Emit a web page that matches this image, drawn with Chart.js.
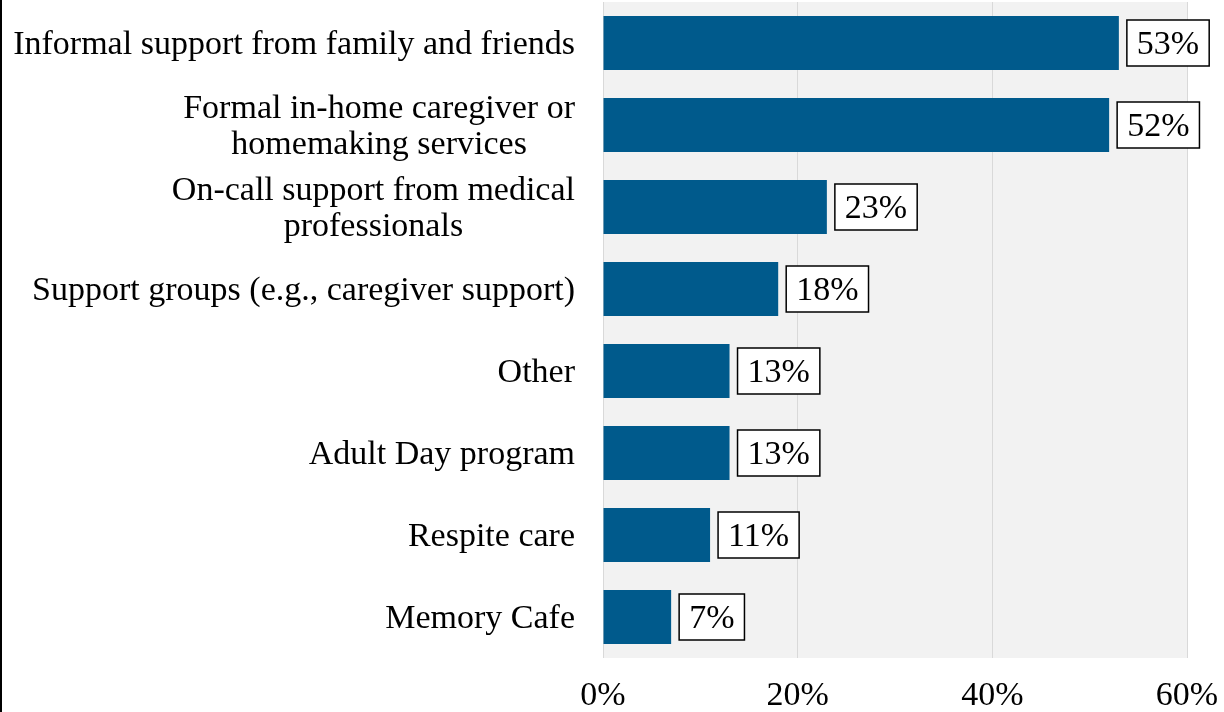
<!DOCTYPE html>
<html>
<head>
<meta charset="utf-8">
<script src="https://cdn.jsdelivr.net/npm/chart.js@4"></script>
<style>
  html, body { margin: 0; padding: 0; background: #ffffff; }
  #wrap { width: 1224px; height: 712px; position: relative; }
</style>
</head>
<body>
<div id="wrap"><canvas id="chart" width="1224" height="712"></canvas></div>
<script>
const categories = [
  "Informal support from family and friends",
  ["Formal in-home caregiver or", "homemaking services"],
  ["On-call support from medical", "professionals"],
  "Support groups (e.g., caregiver support)",
  "Other",
  "Adult Day program",
  "Respite care",
  "Memory Cafe",
];
const shares = [53, 52, 23, 18, 13, 13, 11, 7];
const xTicks = [0, 20, 40, 60];

const FONT = "'Liberation Serif', 'Times New Roman', serif";
const BAR_COLOR = "#005a8c";

// light gray plot background and the thin black rule on the far left
const plotBackground = {
  id: "plotBackground",
  beforeDraw(chart) {
    const { ctx, chartArea } = chart;
    ctx.save();
    ctx.fillStyle = "#f2f2f2";
    ctx.fillRect(chartArea.left, chartArea.top, chartArea.right - chartArea.left, chartArea.bottom - chartArea.top);
    ctx.fillStyle = "#000000";
    ctx.fillRect(0, 0, 2, chart.height);
    ctx.restore();
  },
};

// category names: block right-aligned, lines centred inside the block
const categoryLabels = {
  id: "categoryLabels",
  afterDraw(chart) {
    const { ctx } = chart;
    const y = chart.scales.y;
    const right = 575;
    const lineGap = 36;
    ctx.save();
    ctx.font = "34px " + FONT;
    ctx.fillStyle = "#000000";
    ctx.textBaseline = "middle";
    ctx.textAlign = "center";
    categories.forEach((label, i) => {
      const lines = Array.isArray(label) ? label : [label];
      const cy = y.getPixelForValue(i) + 2;
      const widest = Math.max(...lines.map((l) => ctx.measureText(l).width));
      const mid = right - widest / 2;
      lines.forEach((line, j) => {
        const ly = cy + (j - (lines.length - 1) / 2) * lineGap;
        ctx.fillText(line, mid, ly);
      });
    });
    ctx.restore();
  },
};

// boxed percentage next to each bar end
const valueBoxes = {
  id: "valueBoxes",
  afterDatasetsDraw(chart) {
    const { ctx } = chart;
    const meta = chart.getDatasetMeta(0);
    ctx.save();
    ctx.font = "34px " + FONT;
    ctx.textAlign = "left";
    ctx.textBaseline = "middle";
    meta.data.forEach((bar, i) => {
      const text = shares[i] + "%";
      const w = ctx.measureText(text).width + 20;
      const h = 46;
      const x0 = bar.x + 8;
      const y0 = bar.y - h / 2;
      ctx.fillStyle = "#ffffff";
      ctx.fillRect(x0, y0, w, h);
      ctx.strokeStyle = "#000000";
      ctx.lineWidth = 1.5;
      ctx.strokeRect(x0, y0, w, h);
      ctx.fillStyle = "#000000";
      ctx.fillText(text, x0 + 10, bar.y + 2);
    });
    ctx.restore();
  },
};

new Chart(document.getElementById("chart"), {
  type: "bar",
  data: {
    labels: categories,
    datasets: [
      {
        data: shares,
        backgroundColor: BAR_COLOR,
        borderWidth: 0,
        categoryPercentage: 1,
        barPercentage: 0.66,
      },
    ],
  },
  options: {
    indexAxis: "y",
    responsive: false,
    animation: false,
    layout: { padding: { left: 603, right: 37, top: 2, bottom: 0 } },
    plugins: {
      legend: { display: false },
      tooltip: { enabled: false },
    },
    scales: {
      x: {
        min: 0,
        max: 60,
        afterBuildTicks: (scale) => {
          scale.ticks = xTicks.map((v) => ({ value: v }));
        },
        afterFit: (scale) => {
          scale.height = 54;
          scale.paddingLeft = 0;
          scale.paddingRight = 0;
        },
        grid: { color: "#d9d9d9", lineWidth: 1, drawTicks: false },
        border: { display: false },
        ticks: {
          padding: 21,
          color: "#000000",
          font: { family: FONT, size: 34, lineHeight: 1.0 },
          callback: (v) => v + "%",
        },
      },
      y: {
        afterFit: (scale) => {
          scale.width = 0;
          scale.paddingTop = 0;
          scale.paddingBottom = 0;
        },
        grid: { display: false },
        border: { display: false },
        ticks: { display: false },
      },
    },
  },
  plugins: [plotBackground, categoryLabels, valueBoxes],
});
</script>
</body>
</html>
